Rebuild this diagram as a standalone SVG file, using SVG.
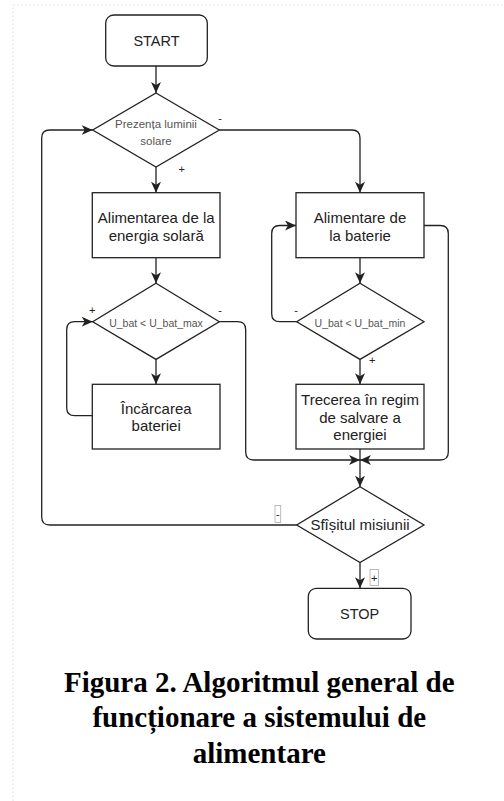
<svg xmlns="http://www.w3.org/2000/svg" width="504" height="801" viewBox="0 0 504 801">
<style>
.shape{fill:#fff;stroke:#222;stroke-width:1.3}
.edge{fill:none;stroke:#222;stroke-width:1.3}
.t{font-family:"Liberation Sans",Arial,sans-serif;fill:#222;text-anchor:middle}
.big{font-size:15px}
.term{font-size:14.5px}
.small{font-size:11.5px;fill:#555}
.tiny{font-size:10.5px;fill:#555}
.lbl{font-family:"Liberation Sans",Arial,sans-serif;font-size:11px;fill:#222;text-anchor:middle}
.lblbox{fill:#fff;stroke:#aaa;stroke-width:0.8}
.cap{font-family:"Liberation Serif","Times New Roman",serif;font-weight:bold;font-size:29px;fill:#000;text-anchor:middle}
.page{fill:none;stroke:#ddd;stroke-width:1;stroke-dasharray:1.5 2.5}
</style>
<defs>
<marker id="arr" markerUnits="userSpaceOnUse" markerWidth="14" markerHeight="12" refX="11" refY="5" orient="auto">
<path d="M0,0 L11,5 L0,10 L3,5 Z" fill="#222"/>
</marker>
</defs>
<rect width="504" height="801" fill="#fff"/>
<path class="page" d="M13,801 V5 H502"/>

<g id="connectors">
<path class="edge" d="M156,66 V93" marker-end="url(#arr)"/>
<path class="edge" d="M156,167 V192.7" marker-end="url(#arr)"/>
<path class="edge" d="M219.3,130 H352 Q360,130 360,138 V192.7" marker-end="url(#arr)"/>
<path class="edge" d="M156,257.7 V283.3" marker-end="url(#arr)"/>
<path class="edge" d="M156,359.4 V384.3" marker-end="url(#arr)"/>
<path class="edge" d="M92.3,415.7 H74.7 Q66.7,415.7 66.7,407.7 V329.7 Q66.7,321.7 74.7,321.7 H92.7" marker-end="url(#arr)"/>
<path class="edge" d="M219.3,321.7 H237.7 Q245.7,321.7 245.7,329.7 V452 Q245.7,460 253.7,460 H360" marker-end="url(#arr)"/>
<path class="edge" d="M360,257.7 V283.3" marker-end="url(#arr)"/>
<path class="edge" d="M296.7,321.7 H279.7 Q271.7,321.7 271.7,313.7 V233.5 Q271.7,225.5 279.7,225.5 H296" marker-end="url(#arr)"/>
<path class="edge" d="M360,359.4 V384.3" marker-end="url(#arr)"/>
<path class="edge" d="M424,225.5 H440.3 Q448.3,225.5 448.3,233.5 V452 Q448.3,460 440.3,460 H360" marker-end="url(#arr)"/>
<path class="edge" d="M360,449 V486.7" marker-end="url(#arr)"/>
<path class="edge" d="M296.7,525 H49.7 Q41.7,525 41.7,517 V138 Q41.7,130 49.7,130 H92.7" marker-end="url(#arr)"/>
<path class="edge" d="M360,562.5 V588.3" marker-end="url(#arr)"/>
<text class="lbl" x="220" y="121.5">-</text>
<text class="lbl" x="181.7" y="173">+</text>
<text class="lbl" x="92.3" y="313.5">+</text>
<text class="lbl" x="220" y="313.5">-</text>
<text class="lbl" x="296" y="313.5">-</text>
<text class="lbl" x="372.3" y="364">+</text>
<rect class="lblbox" x="275" y="505.5" width="5.7" height="17"/>
<text class="lbl" x="277.8" y="518">-</text>
<rect class="lblbox" x="370" y="569.5" width="8.5" height="16"/>
<text class="lbl" x="374.2" y="581.5">+</text>
</g>

<g id="start">
<rect class="shape" x="105.7" y="15" width="101.6" height="51" rx="8"/>
<text class="t term" x="156.5" y="45.7">START</text>
</g>
<g id="d-lumina">
<polygon class="shape" points="156,93 219.3,130 156,167 92.7,130"/>
<text class="t small" x="156" y="127.5">Prezența luminii</text>
<text class="t small" x="156" y="145">solare</text>
</g>
<g id="alim-solara">
<rect class="shape" x="92.3" y="192.7" width="127.7" height="65"/>
<text class="t big" x="156.2" y="223.3">Alimentarea de la</text>
<text class="t big" x="156.2" y="240.5">energia solară</text>
</g>
<g id="alim-baterie">
<rect class="shape" x="296" y="192.7" width="128" height="65"/>
<text class="t big" x="360" y="223.3">Alimentare de</text>
<text class="t big" x="360" y="240.5">la baterie</text>
</g>
<g id="d-max">
<polygon class="shape" points="156,283.3 219.3,321.7 156,359.4 92.7,321.7"/>
<text class="t tiny" x="156" y="327">U_bat &lt; U_bat_max</text>
</g>
<g id="d-min">
<polygon class="shape" points="360,283.3 424,321.7 360,359.4 296.7,321.7"/>
<text class="t tiny" x="360" y="327">U_bat &lt; U_bat_min</text>
</g>
<g id="incarcare">
<rect class="shape" x="92.3" y="384.3" width="127.7" height="64.7"/>
<text class="t big" x="156.2" y="413.7">Încărcarea</text>
<text class="t big" x="156.2" y="431">bateriei</text>
</g>
<g id="salvare">
<rect class="shape" x="296" y="384.3" width="128" height="64.7"/>
<text class="t big" x="360" y="404.7">Trecerea în regim</text>
<text class="t big" x="360" y="422.5">de salvare a</text>
<text class="t big" x="360" y="440.3">energiei</text>
</g>
<g id="d-sfarsit">
<polygon class="shape" points="360,486.7 424,525 360,562.5 296.7,525"/>
<text class="t big" x="360" y="530.3">Sfîșitul misiunii</text>
</g>
<g id="stop">
<rect class="shape" x="308.3" y="588.3" width="102.7" height="50.7" rx="8"/>
<text class="t term" x="359.7" y="619">STOP</text>
</g>

<g id="caption">
<text class="cap" x="259.3" y="692">Figura 2. Algoritmul general de</text>
<text class="cap" x="259.3" y="727">funcționare a sistemului de</text>
<text class="cap" x="259.3" y="762.5">alimentare</text>
</g>
</svg>
